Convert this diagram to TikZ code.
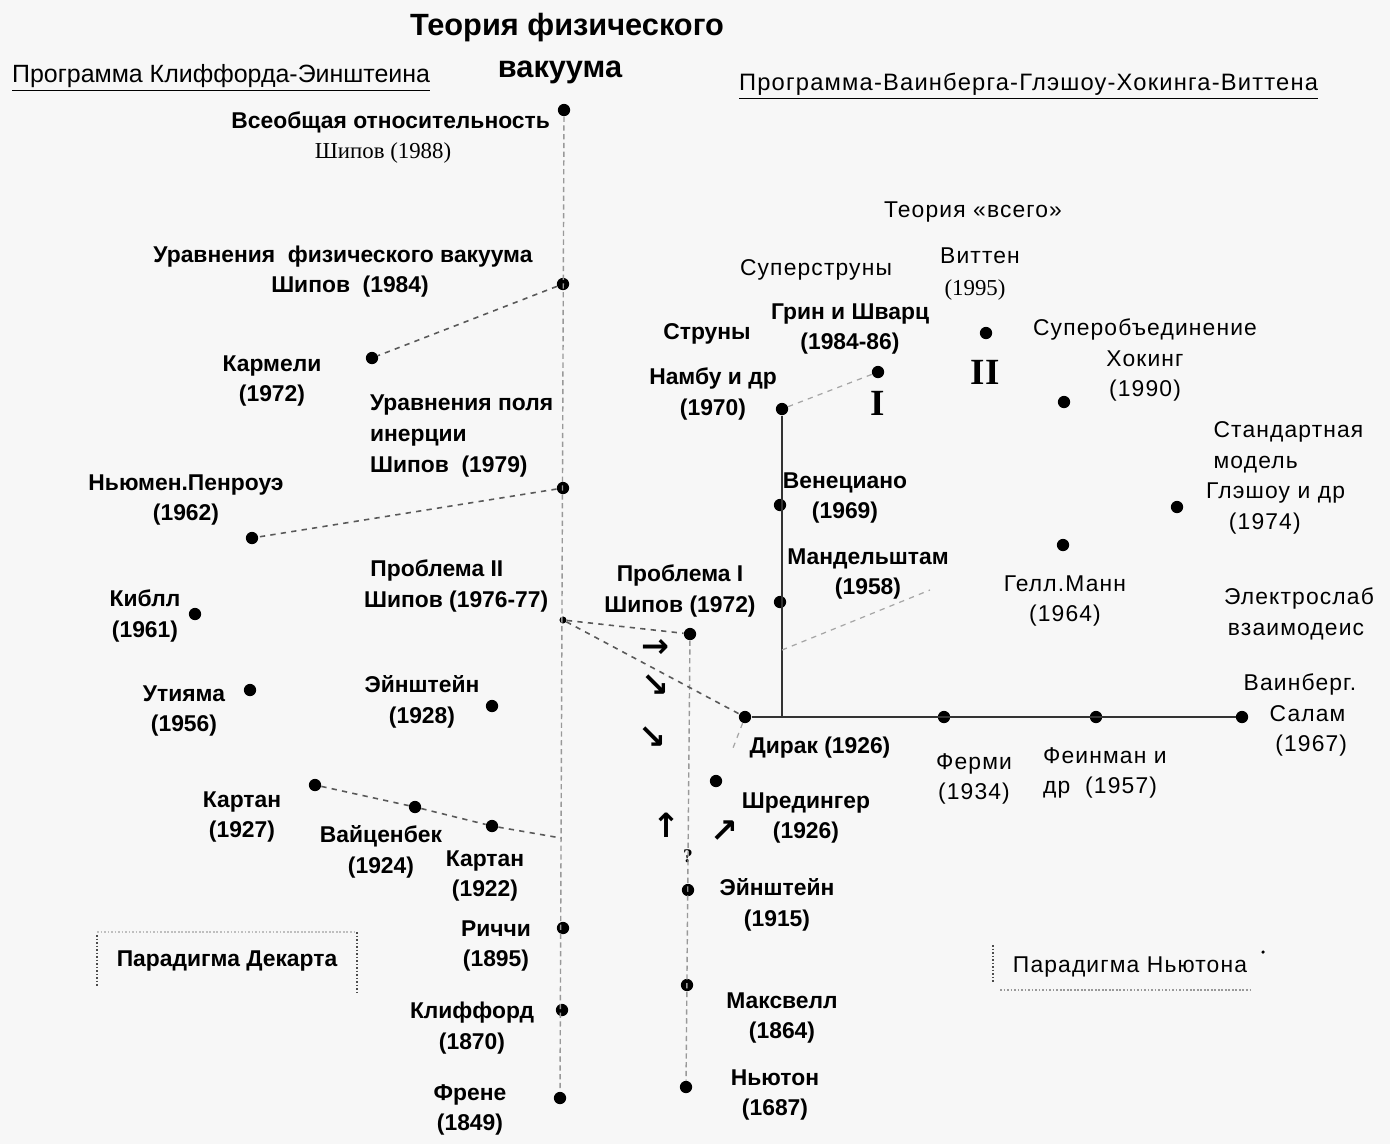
\documentclass[tikz,border=0pt]{standalone}
\usepackage{fontspec}
\setmainfont{Liberation Sans}
\newfontfamily\serifcyr{Liberation Serif}
\newfontfamily\spacedsans[LetterSpace=5]{Liberation Sans}
\newfontfamily\symfont{DejaVu Sans}
\usetikzlibrary{
    calc,
    positioning
}

\tikzset{
    vdot/.style={circle, fill=black, inner sep=0pt, minimum size=7pt},
    smalldot/.style={circle, fill=black, inner sep=0pt, minimum size=4pt},
    lbl/.style={font=\bfseries\fontsize{13}{17.5}\selectfont, align=center, inner sep=1pt},
    lbllight/.style={font=\spacedsans\fontsize{13}{17.5}\selectfont, align=center, inner sep=1pt},
    lblserif/.style={font=\serifcyr\fontsize{13}{15}\selectfont, inner sep=1pt},
    titletext/.style={font=\bfseries\fontsize{17.5}{20}\selectfont, inner sep=1pt},
    header/.style={font=\fontsize{14.2}{16}\selectfont, inner sep=1pt},
    arrowmark/.style={font=\symfont\bfseries\fontsize{19}{19}\selectfont, inner sep=0pt},
    roman/.style={font=\serifcyr\bfseries\fontsize{21}{21}\selectfont, inner sep=0pt},
    axisline/.style={black!40, densely dashed, line width=0.8pt},
    link/.style={black!65, dashed, line width=0.9pt},
    faintlink/.style={black!35, dashed, line width=0.7pt},
    mainline/.style={black!80, line width=1pt},
    boxdots/.style={black!70, densely dotted, line width=1pt},
}

\begin{document}
\begin{tikzpicture}[x=0.02cm, y=-0.02cm]
\useasboundingbox (0,0) rectangle (1390,1144);
\fill[black!3] (0,0) rectangle (1390,1144);

% title and programmes
\node[titletext] (title1) at (567,28) {Теория физического};
\node[titletext] (title2) at (560,72) {вакуума};
\node[header, anchor=west] (hdrL) at (10,78) {\underline{Программа Клиффорда-Эинштеина}};
\node[header, anchor=west, font=\spacedsans\fontsize{13.5}{16}\selectfont] (hdrR) at (737,86) {\underline{Программа-Ваинберга-Глэшоу-Хокинга-Виттена}};

% left axis: Clifford - Einstein
\node[vdot] (d88) at (564,110) {};
\node[vdot] (d84) at (563,284) {};
\node[vdot] (d79) at (563,488) {};
\node[smalldot] (dP2) at (563,620) {};
\node[vdot] (dRic) at (563,928) {};
\node[vdot] (dCli) at (562,1010) {};
\node[vdot] (dFre) at (560,1098) {};
\coordinate (cK) at (561,838);

\node[lbl, anchor=east] (l88a) at (552,122) {Всеобщая относительность};
\node[lblserif] (l88b) at (383,153) {Шипов (1988)};
\node[lbl] (l84a) at (343,257) {Уравнения \ физического вакуума};
\node[lbl] (l84b) at (350,287) {Шипов \ (1984)};
\node[lbl, align=left, anchor=west] (l79) at (368,436) {Уравнения поля\\инерции\\Шипов \ (1979)};
\node[lbl, align=left, anchor=west] (lP2) at (362,586) {\ Проблема II\\Шипов (1976-77)};
\node[lbl] (lRic) at (496,946) {Риччи\\(1895)};
\node[lbl] (lCli) at (472,1028) {Клиффорд\\(1870)};
\node[lbl] (lFre) at (470,1110) {Френе\\(1849)};

% side branches of the left programme
\node[vdot] (dKarm) at (372,358) {};
\node[vdot] (dNP) at (252,538) {};
\node[vdot] (dKib) at (195,614) {};
\node[vdot] (dUti) at (250,690) {};
\node[vdot] (dE28) at (492,706) {};
\node[vdot] (dK27) at (315,785) {};
\node[vdot] (dWz) at (415,807) {};
\node[vdot] (dK22) at (492,826) {};

\node[lbl] (lKarm) at (272,381) {Кармели\\(1972)};
\node[lbl] (lNP) at (186,500) {Ньюмен.Пенроуэ\\(1962)};
\node[lbl] (lKib) at (145,616) {Киблл\\(1961)};
\node[lbl] (lUti) at (184,711) {Утияма\\(1956)};
\node[lbl] (lE28) at (422,702) {Эйнштейн\\(1928)};
\node[lbl] (lK27) at (242,817) {Картан\\(1927)};
\node[lbl] (lWz) at (381,852) {Вайценбек\\(1924)};
\node[lbl] (lK22) at (485,876) {Картан\\(1922)};

\node[lbl] (pDesc) at (227,961) {Парадигма Декарта};
\draw[boxdots] (97,935) -- (97,987);
\draw[boxdots] (357,932) -- (357,992);
\draw[boxdots, black!25] (97,932) -- (357,932);

% Newton axis
\node[vdot] (dP1) at (690,634) {};
\node[vdot] (dSch) at (716,781) {};
\node[vdot] (dE15) at (688,890) {};
\node[vdot] (dMax) at (687,985) {};
\node[vdot] (dNew) at (686,1087) {};

\node[lbl] (lP1) at (680,591) {Проблема I\\Шипов (1972)};
\node[lbl] (lSch) at (806,818) {Шредингер\\(1926)};
\node[lbl] (lE15) at (777,905) {Эйнштейн\\(1915)};
\node[lbl] (lMax) at (782,1018) {Максвелл\\(1864)};
\node[lbl] (lNew) at (775,1095) {Ньютон\\(1687)};

\node[arrowmark] (ar1) at (655,648) {→};
\node[arrowmark] (ar2) at (655,686) {↘};
\node[arrowmark] (ar3) at (652,738) {↘};
\node[arrowmark] (ar4) at (666,825) {↑};
\node[arrowmark] (ar5) at (724,832) {↗};
\node[lblserif, font=\serifcyr\bfseries\fontsize{11}{11}\selectfont] (qmark) at (688,856) {?};

% Weinberg - Glashow - Hawking - Witten programme
\node[vdot] (dDir) at (745,717) {};
\node[vdot] (dFer) at (944,717) {};
\node[vdot] (dFey) at (1096,717) {};
\node[vdot] (dWS) at (1242,717) {};
\coordinate (cJoin) at (782,717);
\coordinate (cDS) at (733,748);
\node[vdot] (dNam) at (782,409) {};
\node[vdot] (dVen) at (780,505) {};
\node[vdot] (dMan) at (780,602) {};
\coordinate (cMv) at (782,650);
\coordinate (cMe) at (930,590);
\node[vdot] (dGS) at (878,372) {};
\node[vdot] (dWit) at (986,333) {};
\node[vdot] (dHaw) at (1064,402) {};
\node[vdot] (dGM) at (1063,545) {};
\node[vdot] (dSM) at (1177,507) {};

\node[lbl] (lDir) at (820,748) {Дирак (1926)};
\node[lbllight] (lFer) at (974,779) {Ферми\\(1934)};
\node[lbllight, align=left, anchor=west] (lFey) at (1041,773) {Феинман и\\др \ (1957)};
\node[lbllight] (lWS) at (1300,715) {Ваинберг.\\\ \ Салам\\\ \ \ (1967)};
\node[lbllight, align=left, anchor=west] (lEW) at (1222,614) {Электрослаб\\\,взаимодеис};
\node[lbl] (lStr) at (707,334) {Струны};
\node[lbl] (lNam) at (713,394) {Намбу и др\\(1970)};
\node[lbl] (lVen) at (845,498) {Венециано\\(1969)};
\node[lbl] (lMan) at (868,574) {Мандельштам\\(1958)};
\node[lbllight] (lSup) at (816,270) {Суперструны};
\node[lbl] (lGS) at (850,329) {Грин и Шварц\\(1984-86)};
\node[roman] (rI) at (878,403) {I};
\node[lbllight] (lWit) at (980,256) {Виттен};
\node[lblserif] (lWit2) at (975,290) {(1995)};
\node[roman] (rII) at (985,372) {II};
\node[lbllight] (lTOE) at (973,212) {Теория «всего»};
\node[lbllight] (lHaw) at (1145,360) {Суперобъединение\\Хокинг\\(1990)};
\node[lbllight, align=left, anchor=west] (lSM) at (1204,478) {\ Стандартная\\\ модель\\Глэшоу и др\\\quad (1974)};
\node[lbllight] (lGM) at (1065,601) {Гелл.Манн\\(1964)};

\node[lbllight] (pNewt) at (1130,967) {Парадигма Ньютона};
\draw[boxdots] (993,945) -- (993,983);
\draw[boxdots, black!40] (1000,990) -- (1250,990);
\node[smalldot, minimum size=2pt] (tick) at (1263,952) {};

% connectors
\draw[axisline] (d88) -- (dFre);
\draw[axisline] (dP1) -- (dNew);
\draw[link] (d84) -- (dKarm);
\draw[link] (d79) -- (dNP);
\draw[link] (dK27) -- (dWz) -- (dK22) -- (cK);
\draw[link] (dP2) -- (dP1);
\draw[link] (dP2) -- (dDir);
\draw[faintlink] (dDir) -- (cDS);
\draw[mainline] (dDir) -- (dWS);
\draw[mainline] (dNam) -- (cJoin);
\draw[faintlink] (cMv) -- (cMe);
\draw[faintlink] (dNam) -- (dGS);
\end{tikzpicture}
\end{document}
